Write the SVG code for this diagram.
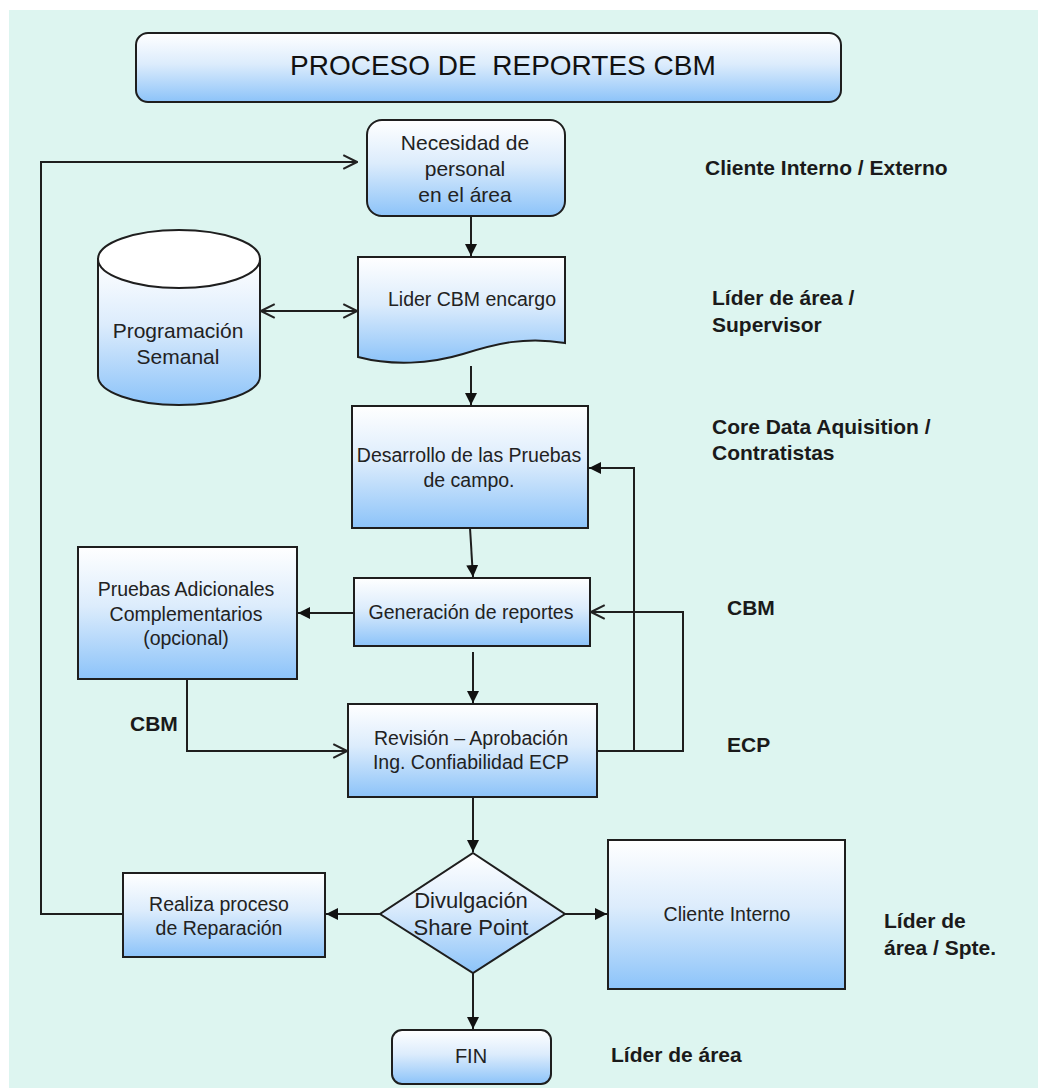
<svg xmlns="http://www.w3.org/2000/svg" width="1038" height="1088" viewBox="0 0 1038 1088">
<defs>
<linearGradient id="g" x1="0" y1="0" x2="0" y2="1">
<stop offset="0" stop-color="#ffffff"/>
<stop offset="0.45" stop-color="#dcecfc"/>
<stop offset="1" stop-color="#8cc3f9"/>
</linearGradient>
<marker id="af" viewBox="0 0 10 10" refX="10" refY="5" markerWidth="12" markerHeight="12" markerUnits="userSpaceOnUse" orient="auto">
<path d="M0,0 L10,5 L0,10 Z" fill="#111"/>
</marker>
<marker id="ao" viewBox="0 0 14 14" refX="13" refY="7" markerWidth="16" markerHeight="16" markerUnits="userSpaceOnUse" orient="auto-start-reverse">
<path d="M1,1 L13,7 L1,13" fill="none" stroke="#222" stroke-width="1.8"/>
</marker>
<style>
.box{fill:url(#g);stroke:#1e1e1e;stroke-width:2}
.t{font-family:"Liberation Sans",Arial,sans-serif;font-size:19.5px;fill:#222;text-anchor:middle}
.tb{font-family:"Liberation Sans",Arial,sans-serif;font-size:21px;font-weight:bold;fill:#1a1a1a}
.c{fill:none;stroke:#1e1e1e;stroke-width:2}
</style>
</defs>
<rect x="0" y="0" width="1038" height="1088" fill="#ffffff"/>
<rect x="9" y="10" width="1029" height="1078" fill="#ddf5f0"/>

<g id="title">
<rect class="box" x="136" y="33" width="705" height="69" rx="12"/>
<text x="290" y="75" font-family="Liberation Sans, Arial, sans-serif" font-size="28" fill="#111">PROCESO DE&#160; REPORTES CBM</text>
</g>

<g id="necesidad">
<rect class="box" x="367" y="120" width="198" height="96" rx="15"/>
<text class="t" style="font-size:21px"><tspan x="465" y="150">Necesidad de</tspan><tspan x="465" y="176">personal</tspan><tspan x="465" y="202">en el área</tspan></text>
</g>

<g id="lider">
<path class="box" d="M358,257 H565 V343 C525,336 495,344 463,354 C430,364 392,366 358,357 Z"/>
<text class="t" x="472" y="306">Lider CBM encargo</text>
</g>

<g id="programacion">
<path class="box" d="M98,259 V376 A81,29 0 0 0 260,376 V259 Z"/>
<ellipse cx="179" cy="259" rx="81" ry="29" fill="#ffffff" stroke="#1e1e1e" stroke-width="2"/>
<text class="t" style="font-size:21px"><tspan x="178" y="338">Programación</tspan><tspan x="178" y="364">Semanal</tspan></text>
</g>

<g id="desarrollo">
<rect class="box" x="352" y="406" width="236" height="122"/>
<text class="t"><tspan x="469" y="462">Desarrollo de las Pruebas</tspan><tspan x="469" y="487">de campo.</tspan></text>
</g>

<g id="generacion">
<rect class="box" x="354" y="578" width="236" height="68"/>
<text class="t" x="471" y="619">Generación de reportes</text>
</g>

<g id="pruebas">
<rect class="box" x="78" y="547" width="219" height="132"/>
<text class="t"><tspan x="186" y="596">Pruebas Adicionales</tspan><tspan x="186" y="621">Complementarios</tspan><tspan x="186" y="645">(opcional)</tspan></text>
</g>

<g id="revision">
<rect class="box" x="348" y="704" width="249" height="93"/>
<text class="t"><tspan x="471" y="745">Revisión – Aprobación</tspan><tspan x="471" y="769">Ing. Confiabilidad ECP</tspan></text>
</g>

<g id="divulgacion">
<path class="box" d="M473,853 L565,914 L473,973 L380,914 Z"/>
<text class="t" style="font-size:22px"><tspan x="471" y="908">Divulgación</tspan><tspan x="471" y="935">Share Point</tspan></text>
</g>

<g id="realiza">
<rect class="box" x="123" y="873" width="202" height="84"/>
<text class="t"><tspan x="219" y="911">Realiza proceso</tspan><tspan x="219" y="935">de Reparación</tspan></text>
</g>

<g id="cliente">
<rect class="box" x="608" y="840" width="237" height="149"/>
<text class="t" x="727" y="921">Cliente Interno</text>
</g>

<g id="fin">
<rect class="box" x="392" y="1030" width="159" height="54" rx="10"/>
<text class="t" style="font-size:20px" x="471" y="1063">FIN</text>
</g>

<g id="labels">
<text class="tb" x="705" y="175">Cliente Interno / Externo</text>
<text class="tb"><tspan x="712" y="305">Líder de área /</tspan><tspan x="712" y="332">Supervisor</tspan></text>
<text class="tb"><tspan x="712" y="434">Core Data Aquisition /</tspan><tspan x="712" y="460">Contratistas</tspan></text>
<text class="tb" x="727" y="615">CBM</text>
<text class="tb" x="727" y="752">ECP</text>
<text class="tb" x="130" y="731">CBM</text>
<text class="tb"><tspan x="884" y="928">Líder de</tspan><tspan x="884" y="955">área / Spte.</tspan></text>
<text class="tb" x="611" y="1062">Líder de área</text>
</g>

<g id="connectors">
<polyline class="c" points="123,914 41,914 41,162 357,162" marker-end="url(#ao)"/>
<line class="c" x1="471" y1="216" x2="471" y2="256" marker-end="url(#af)"/>
<line class="c" x1="471" y1="366" x2="471" y2="405" marker-end="url(#af)"/>
<line class="c" x1="261" y1="311" x2="357" y2="311" marker-start="url(#ao)" marker-end="url(#ao)"/>
<line class="c" x1="470" y1="528" x2="473" y2="577" marker-end="url(#af)"/>
<line class="c" x1="473" y1="652" x2="473" y2="703" marker-end="url(#af)"/>
<line class="c" x1="354" y1="613" x2="298" y2="613" marker-end="url(#af)"/>
<polyline class="c" points="187,679 187,751 347,751" marker-end="url(#ao)"/>
<polyline class="c" points="597,751 634,751 634,468 589,468" marker-end="url(#af)"/>
<polyline class="c" points="634,751 683,751 683,612 591,612" marker-end="url(#ao)"/>
<line class="c" x1="473" y1="797" x2="473" y2="852" marker-end="url(#af)"/>
<line class="c" x1="380" y1="914" x2="326" y2="914" marker-end="url(#af)"/>
<line class="c" x1="565" y1="914" x2="607" y2="914" marker-end="url(#af)"/>
<line class="c" x1="473" y1="973" x2="473" y2="1029" marker-end="url(#af)"/>
</g>
</svg>
